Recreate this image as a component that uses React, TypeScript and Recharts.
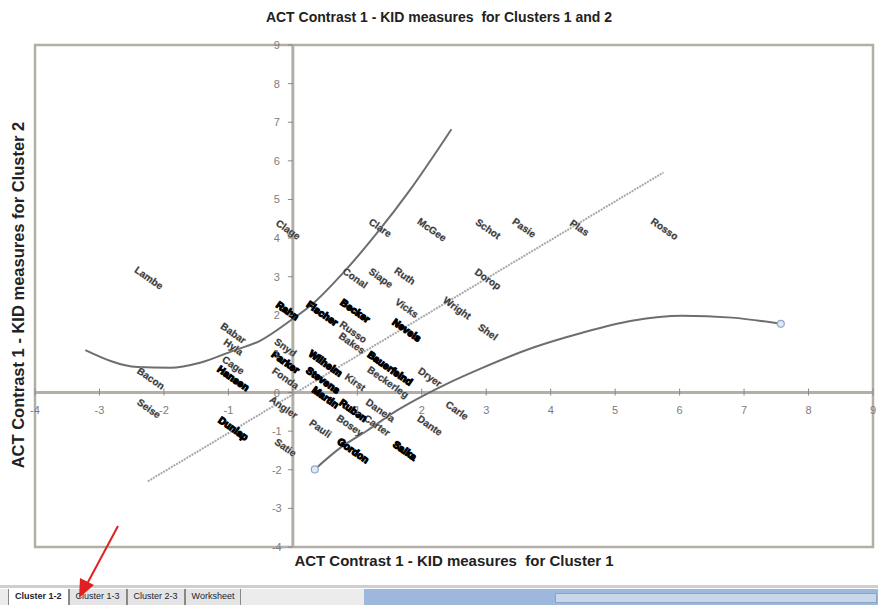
import React from 'react';
import { ScatterChart, Scatter, XAxis, YAxis, ReferenceLine, ReferenceArea } from 'recharts';

// ---- data ----
const xTicks = [-4, -3, -2, -1, 0, 1, 2, 3, 4, 5, 6, 7, 8, 9];
const yTicks = [-4, -3, -2, -1, 0, 1, 2, 3, 4, 5, 6, 7, 8, 9];

const identityLine = [
  { x: -2.25, y: -2.3 },
  { x: 5.75, y: 5.7 },
];

const upperCurve = [
  { x: -3.22, y: 1.1 },
  { x: -2.41, y: 0.66 },
  { x: -1.9, y: 0.64 },
  { x: -1.44, y: 0.77 },
  { x: -0.93, y: 1.08 },
  { x: -0.51, y: 1.34 },
  { x: 0, y: 1.91 },
  { x: 0.31, y: 2.3 },
  { x: 0.77, y: 3.08 },
  { x: 1.3, y: 4.12 },
  { x: 1.81, y: 5.23 },
  { x: 2.46, y: 6.82 },
];

const lowerCurve = [
  { x: 0.34, y: -1.99 },
  { x: 0.73, y: -1.44 },
  { x: 1.15, y: -0.99 },
  { x: 1.61, y: -0.47 },
  { x: 2.07, y: -0.04 },
  { x: 2.38, y: 0.22 },
  { x: 2.94, y: 0.64 },
  { x: 3.72, y: 1.16 },
  { x: 4.49, y: 1.55 },
  { x: 5.26, y: 1.86 },
  { x: 6.04, y: 1.99 },
  { x: 6.81, y: 1.94 },
  { x: 7.57, y: 1.78 },
];

const lowerEnds = [lowerCurve[0], lowerCurve[lowerCurve.length - 1]];

const lightLabels = [
  { name: 'Lambe', x: -2.24, y: 2.95 },
  { name: 'Clage', x: -0.08, y: 4.2 },
  { name: 'Clare', x: 1.35, y: 4.25 },
  { name: 'McGee', x: 2.15, y: 4.2 },
  { name: 'Schot', x: 3.02, y: 4.22 },
  { name: 'Pasie', x: 3.58, y: 4.25 },
  { name: 'Plas', x: 4.44, y: 4.25 },
  { name: 'Rosso', x: 5.76, y: 4.22 },
  { name: 'Conal', x: 0.96, y: 2.95 },
  { name: 'Siape', x: 1.36, y: 2.95 },
  { name: 'Ruth', x: 1.73, y: 3.0 },
  { name: 'Dorop', x: 3.02, y: 2.92 },
  { name: 'Vicks', x: 1.76, y: 2.17 },
  { name: 'Wright', x: 2.54, y: 2.17 },
  { name: 'Shel', x: 3.02, y: 1.55 },
  { name: 'Russo', x: 0.93, y: 1.55 },
  { name: 'Bakes', x: 0.91, y: 1.26 },
  { name: 'Beckerleg', x: 1.47, y: 0.25 },
  { name: 'Dryer', x: 2.12, y: 0.38 },
  { name: 'Carle', x: 2.54, y: -0.48 },
  { name: 'Dante', x: 2.12, y: -0.87 },
  { name: 'Danela', x: 1.35, y: -0.48 },
  { name: 'Carter', x: 1.3, y: -0.87 },
  { name: 'Bosey', x: 0.88, y: -0.87 },
  { name: 'Pauli', x: 0.42, y: -0.95 },
  { name: 'Satie', x: -0.12, y: -1.44 },
  { name: 'Angler', x: -0.15, y: -0.4 },
  { name: 'Kirst', x: 0.96, y: 0.25 },
  { name: 'Snyd', x: -0.12, y: 1.15 },
  { name: 'Fonda', x: -0.12, y: 0.35 },
  { name: 'Babar', x: -0.93, y: 1.52 },
  { name: 'Hyla', x: -0.93, y: 1.16 },
  { name: 'Cage', x: -0.93, y: 0.69 },
  { name: 'Bacon', x: -2.21, y: 0.35 },
  { name: 'Seise', x: -2.24, y: -0.43 },
];

const darkLabels = [
  { name: 'Rahn', x: -0.09, y: 2.1 },
  { name: 'Fischer', x: 0.45, y: 2.03 },
  { name: 'Becker', x: 0.96, y: 2.1 },
  { name: 'Nevels', x: 1.76, y: 1.6 },
  { name: 'Bauerfeind', x: 1.5, y: 0.61 },
  { name: 'Wilhelm', x: 0.5, y: 0.74 },
  { name: 'Stevens', x: 0.46, y: 0.3 },
  { name: 'Martin', x: 0.5, y: -0.14 },
  { name: 'Ruben', x: 0.93, y: -0.48 },
  { name: 'Gordon', x: 0.93, y: -1.52 },
  { name: 'Salka', x: 1.73, y: -1.52 },
  { name: 'Parker', x: -0.12, y: 0.77 },
  { name: 'Hansen', x: -0.93, y: 0.35 },
  { name: 'Dunlap', x: -0.93, y: -0.95 },
];

const sheetTabs = ['Cluster 1-2', 'Cluster 1-3', 'Cluster 2-3', 'Worksheet'];

const TITLE = 'ACT Contrast 1 - KID measures  for Clusters 1 and 2';
const X_TITLE = 'ACT Contrast 1 - KID measures  for Cluster 1';
const Y_TITLE = 'ACT Contrast 1 - KID measures for Cluster 2';

// ---- layout ----
const W = 878;
const H = 605;
const AXIS_H = 20;
const AXIS_W = 20;
const M = { top: 45, right: 5, bottom: 58 - AXIS_H, left: 35 - AXIS_W };
const plotLeft = M.left + AXIS_W;
const plotW = W - plotLeft - M.right;
const plotH = H - M.top - M.bottom - AXIS_H;
const X_MIN = -4;
const X_MAX = 9;
const Y_MIN = -4;
const Y_MAX = 9;
const zeroY = M.top + (plotH * Y_MAX) / (Y_MAX - Y_MIN);
const zeroX = plotLeft + (plotW * (0 - X_MIN)) / (X_MAX - X_MIN);

const FONT = '"Liberation Sans", Arial, sans-serif';
const AXIS_GRAY = '#b3aea6';
const TICK_GRAY = '#7d7d7d';

const renderXTick = (props: any) => {
  const { x, payload } = props;
  const v = payload.value;
  return (
    <g>
      <line x1={x} x2={x} y1={zeroY - 4} y2={zeroY + 3} stroke="#8a8a8a" strokeWidth={1} />
      {v !== 0 && (
        <text x={x} y={zeroY + 21} textAnchor="middle" fontSize={11} fill={TICK_GRAY} fontFamily={FONT}>
          {v}
        </text>
      )}
    </g>
  );
};

const renderYTick = (props: any) => {
  const { y, payload } = props;
  return (
    <g>
      <line x1={zeroX - 5} x2={zeroX} y1={y} y2={y} stroke="#8a8a8a" strokeWidth={1} />
      <text x={zeroX - 16} y={y + 4} textAnchor="middle" fontSize={11} fill={TICK_GRAY} fontFamily={FONT}>
        {payload.value}
      </text>
    </g>
  );
};

const makeLabelShape = (dark: boolean) => (props: any) => {
  const { cx, cy, payload } = props;
  if (cx == null || cy == null) return <g />;
  return (
    <text
      x={cx}
      y={cy}
      transform={`rotate(35 ${cx} ${cy})`}
      textAnchor="middle"
      dominantBaseline="middle"
      fontSize={10}
      fontWeight="bold"
      fontFamily={FONT}
      fill={dark ? '#000' : '#3a3a3a'}
      stroke={dark ? '#000' : '#bdbdbd'}
      strokeWidth={dark ? 1.2 : 0.6}
      paintOrder="stroke"
    >
      {payload.name}
    </text>
  );
};

const EmptyShape = () => <g />;

const EndMarker = (props: any) => {
  const { cx, cy } = props;
  return <circle cx={cx} cy={cy} r={3.5} fill="#dfe8f5" stroke="#8fa8cc" strokeWidth={1.2} />;
};

export default function App() {
  return (
    <div style={{ position: 'absolute', left: 0, top: 0, width: W, height: H, background: '#fff', overflow: 'hidden' }}>
      <div
        style={{
          position: 'absolute',
          left: 0,
          width: W,
          top: 9,
          textAlign: 'center',
          fontFamily: FONT,
          fontWeight: 'bold',
          fontSize: 14,
          color: '#222',
          whiteSpace: 'pre',
        }}
      >
        {TITLE}
      </div>
      <ScatterChart width={W} height={H} margin={M}>
        <XAxis
          type="number"
          dataKey="x"
          domain={[X_MIN, X_MAX]}
          ticks={xTicks}
          interval={0}
          allowDataOverflow
          height={AXIS_H}
          axisLine={false}
          tickLine={false}
          tick={renderXTick}
        />
        <YAxis
          type="number"
          dataKey="y"
          domain={[Y_MIN, Y_MAX]}
          ticks={yTicks}
          interval={0}
          allowDataOverflow
          width={AXIS_W}
          axisLine={false}
          tickLine={false}
          tick={renderYTick}
        />
        <ReferenceArea x1={X_MIN} x2={X_MAX} y1={Y_MIN} y2={Y_MAX} fill="none" stroke={AXIS_GRAY} strokeWidth={2.5} />
        <ReferenceLine y={0} stroke={AXIS_GRAY} strokeWidth={3} />
        <ReferenceLine x={0} stroke={AXIS_GRAY} strokeWidth={3} />
        <Scatter
          data={identityLine}
          line={{ stroke: '#a8a8a8', strokeWidth: 2, strokeDasharray: '2 1' }}
          shape={EmptyShape}
          isAnimationActive={false}
        />
        <Scatter
          data={upperCurve}
          line={{ stroke: '#6e6e6e', strokeWidth: 2 }}
          lineJointType="monotoneX"
          shape={EmptyShape}
          isAnimationActive={false}
        />
        <Scatter
          data={lowerCurve}
          line={{ stroke: '#6e6e6e', strokeWidth: 2 }}
          lineJointType="monotoneX"
          shape={EmptyShape}
          isAnimationActive={false}
        />
        <Scatter data={lowerEnds} shape={EndMarker} isAnimationActive={false} />
        <Scatter data={lightLabels} shape={makeLabelShape(false)} isAnimationActive={false} />
        <Scatter data={darkLabels} shape={makeLabelShape(true)} isAnimationActive={false} />
      </ScatterChart>
      <div
        style={{
          position: 'absolute',
          left: 0,
          width: W,
          top: 552,
          paddingLeft: 30,
          boxSizing: 'border-box',
          textAlign: 'center',
          fontFamily: FONT,
          fontWeight: 'bold',
          fontSize: 15,
          color: '#222',
          whiteSpace: 'pre',
        }}
      >
        {X_TITLE}
      </div>
      <div
        style={{
          position: 'absolute',
          left: 18,
          top: 295,
          transform: 'translate(-50%, -50%) rotate(-90deg)',
          fontFamily: FONT,
          fontWeight: 'bold',
          fontSize: 16.5,
          color: '#222',
          whiteSpace: 'pre',
        }}
      >
        {Y_TITLE}
      </div>
      {/* sheet tab strip */}
      <div style={{ position: 'absolute', left: 0, top: 585, width: W, height: 3, background: '#cfcfcf' }} />
      <div style={{ position: 'absolute', left: 0, top: 589, width: W, height: 16, background: '#ececec' }} />
      <div style={{ position: 'absolute', left: 364, top: 589, width: W - 364, height: 16, background: '#9db8dc' }} />
      <div style={{ position: 'absolute', left: 555, top: 593, width: 320, height: 8, background: '#c9d7ea', border: '1px solid #8aa4c8' }} />
      <div style={{ position: 'absolute', left: 8, top: 589, height: 16, display: 'flex', fontFamily: FONT, fontSize: 9 }}>
        {sheetTabs.map((t, i) => (
          <div
            key={t}
            style={{
              padding: '2px 6px 0 6px',
              background: i === 0 ? '#fff' : '#e4e4e4',
              borderLeft: '1px solid #888',
              borderRight: '1px solid #888',
              color: '#223',
              fontWeight: i === 0 ? 'bold' : 'normal',
              height: 14,
            }}
          >
            {t}
          </div>
        ))}
      </div>
      <svg style={{ position: 'absolute', left: 0, top: 0 }} width={W} height={H}>
        <line x1={118} y1={526} x2={87} y2={584} stroke="#e02020" strokeWidth={2} />
        <polygon points="79,598 80,578 94,585" fill="#e02020" />
      </svg>
    </div>
  );
}
